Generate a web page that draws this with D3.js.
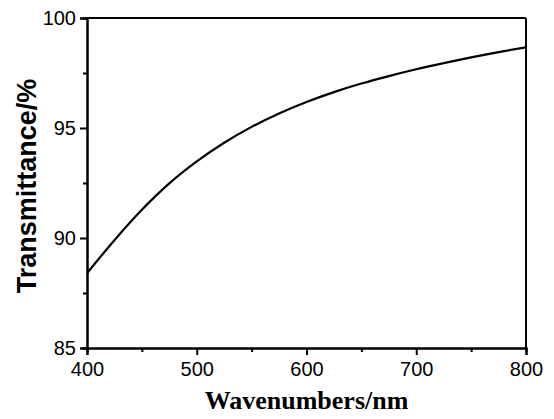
<!DOCTYPE html>
<html>
<head>
<meta charset="utf-8">
<script src="https://cdn.jsdelivr.net/npm/d3@7"></script>
<style>
  body { margin: 0; background: #fff; }
  svg text { fill: #000; }
</style>
</head>
<body>
<div id="chart"></div>
<script>
// Transmittance curve
const wavelengths = [400, 425, 450, 475, 500, 525, 550, 575, 600, 625, 650, 675, 700, 725, 750, 775, 800];
const transmittance = [88.4, 89.9, 91.28, 92.48, 93.48, 94.33, 95.05, 95.66, 96.18, 96.63, 97.02, 97.36, 97.67, 97.95, 98.21, 98.45, 98.67];
const xTicks = [400, 500, 600, 700, 800];
const xMinorTicks = [450, 550, 650, 750];
const yTicks = [85, 90, 95, 100];
const yMinorTicks = [87.5, 92.5, 97.5];

const W = 554, H = 419;
const M = { top: 18, right: 28, bottom: 71, left: 87 };
const iw = W - M.left - M.right, ih = H - M.top - M.bottom;

const SANS = '"Liberation Sans", Arial, Helvetica, sans-serif';
const SERIF = '"Liberation Serif", "Times New Roman", serif';

const svg = d3.select('#chart').append('svg')
  .attr('width', W).attr('height', H);

const g = svg.append('g').attr('transform', `translate(${M.left},${M.top})`);

const x = d3.scaleLinear().domain([400, 800]).range([0, iw]);
const y = d3.scaleLinear().domain([85, 100]).range([ih, 0]);

// minor ticks first so the major axes sit on top
g.append('g').attr('transform', `translate(0,${ih})`)
  .call(d3.axisBottom(x).tickValues(xMinorTicks).tickSize(4).tickFormat(''));
g.append('g')
  .call(d3.axisLeft(y).tickValues(yMinorTicks).tickSize(4).tickFormat(''));

g.append('g').attr('transform', `translate(0,${ih})`)
  .call(d3.axisBottom(x).tickValues(xTicks).tickSize(7).tickPadding(7));
g.append('g')
  .call(d3.axisLeft(y).tickValues(yTicks).tickSize(7).tickPadding(4));

g.selectAll('.domain, .tick line').attr('stroke', '#000').attr('stroke-width', 2);
g.selectAll('.tick text')
  .style('font-family', SANS)
  .style('font-size', '20px');

// frame top and right
g.append('line').attr('x1', 0).attr('x2', iw).attr('y1', 0).attr('y2', 0)
  .attr('stroke', '#000').attr('stroke-width', 2);
g.append('line').attr('x1', iw).attr('x2', iw).attr('y1', 0).attr('y2', ih)
  .attr('stroke', '#000').attr('stroke-width', 2);

const line = d3.line()
  .x((d, i) => x(wavelengths[i]))
  .y(d => y(d))
  .curve(d3.curveMonotoneX);

g.append('path')
  .datum(transmittance)
  .attr('fill', 'none')
  .attr('stroke', '#000')
  .attr('stroke-width', 2.2)
  .attr('d', line);

// axis titles
svg.append('text')
  .attr('x', M.left + iw / 2)
  .attr('y', 409)
  .attr('text-anchor', 'middle')
  .style('font-family', SERIF)
  .style('font-weight', 'bold')
  .style('font-size', '26px')
  .text('Wavenumbers/nm');

svg.append('text')
  .attr('transform', `translate(36,${M.top + ih / 2 + 3}) rotate(-90)`)
  .attr('text-anchor', 'middle')
  .style('font-family', SANS)
  .style('font-weight', 'bold')
  .style('font-size', '27px')
  .text('Transmittance/%');
</script>
</body>
</html>
